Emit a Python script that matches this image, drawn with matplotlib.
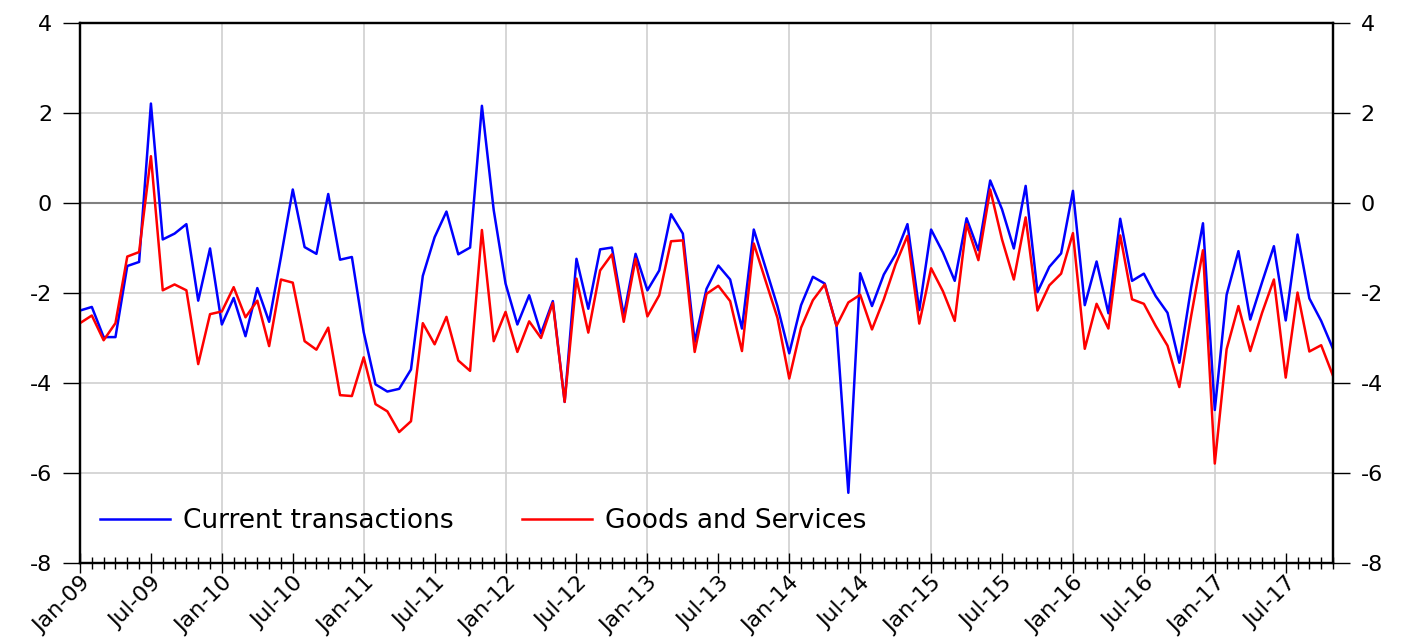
import numpy as np
import pandas as pd
import matplotlib
matplotlib.use("Agg")
import matplotlib.pyplot as plt
from matplotlib.ticker import FixedLocator

plt.rcParams['font.family'] = ['DejaVu Sans']
plt.rcParams['axes.unicode_minus'] = False

# monthly data, Jan-09 .. Nov-17
months = pd.date_range('2009-01-01', periods=107, freq='MS')

current_transactions = [
    -2.39, -2.31, -2.98, -2.98, -1.40, -1.31, 2.21, -0.81, -0.68, -0.47, -2.17, -1.01,
    -2.70, -2.11, -2.96, -1.89, -2.64, -1.20, 0.30, -0.98, -1.13, 0.20, -1.26, -1.20,
    -2.87, -4.03, -4.19, -4.13, -3.70, -1.62, -0.76, -0.19, -1.14, -0.99, 2.16, -0.16,
    -1.79, -2.70, -2.05, -2.90, -2.18, -4.42, -1.24, -2.35, -1.03, -0.99, -2.50, -1.13,
    -1.94, -1.50, -0.25, -0.68, -3.09, -1.91, -1.39, -1.70, -2.79, -0.59, -1.44, -2.29,
    -3.34, -2.27, -1.64, -1.79, -2.73, -6.44, -1.56, -2.29, -1.59, -1.14, -0.47, -2.38,
    -0.59, -1.10, -1.73, -0.34, -1.05, 0.50, -0.14, -1.01, 0.38, -1.98, -1.42, -1.12,
    0.27, -2.27, -1.30, -2.45, -0.35, -1.73, -1.57, -2.07, -2.44, -3.55, -1.88, -0.45,
    -4.60, -2.04, -1.07, -2.59, -1.76, -0.96, -2.61, -0.70, -2.12, -2.62, -3.24,
]
goods_services = [
    -2.67, -2.50, -3.05, -2.67, -1.19, -1.09, 1.04, -1.94, -1.81, -1.94, -3.58, -2.47,
    -2.41, -1.87, -2.54, -2.17, -3.18, -1.70, -1.77, -3.07, -3.26, -2.77, -4.27, -4.29,
    -3.43, -4.47, -4.63, -5.09, -4.85, -2.67, -3.14, -2.53, -3.50, -3.73, -0.60, -3.07,
    -2.42, -3.31, -2.63, -3.00, -2.22, -4.42, -1.68, -2.88, -1.50, -1.14, -2.64, -1.24,
    -2.52, -2.05, -0.85, -0.83, -3.31, -2.02, -1.84, -2.18, -3.29, -0.90, -1.73, -2.55,
    -3.90, -2.77, -2.16, -1.81, -2.73, -2.21, -2.04, -2.81, -2.14, -1.36, -0.73, -2.68,
    -1.45, -1.96, -2.62, -0.47, -1.27, 0.30, -0.81, -1.70, -0.32, -2.39, -1.83, -1.57,
    -0.67, -3.24, -2.24, -2.79, -0.72, -2.14, -2.24, -2.73, -3.17, -4.09, -2.51, -1.05,
    -5.79, -3.25, -2.29, -3.29, -2.44, -1.70, -3.88, -1.99, -3.30, -3.16, -3.84,
]
y_ticks = [4, 2, 0, -2, -4, -6, -8]

x = np.arange(len(months))
jan_idx = x[months.month == 1]
major_idx = x[(months.month == 1) | (months.month == 7)]
major_labels = months[major_idx].strftime('%b-%y')

fig = plt.figure(figsize=(14.05, 6.43), dpi=100)
ax = fig.add_axes([80 / 1405, 80 / 643, 1253 / 1405, 540 / 643])

# grid
for xi in jan_idx[1:]:
    ax.axvline(xi, color='#d0d0d0', lw=1.2, zorder=0)
for yv in y_ticks:
    if yv == 0:
        ax.axhline(0, color='#808080', lw=1.5, zorder=1)
    else:
        ax.axhline(yv, color='#d0d0d0', lw=1.2, zorder=0)

ax.plot(x, current_transactions, color='#0000ff', lw=1.8, label='Current transactions', zorder=3)
ax.plot(x, goods_services, color='#ff0000', lw=1.8, label='Goods and Services', zorder=3)

ax.set_xlim(0, len(x) - 1)
ax.set_ylim(-8, 4)
ax.set_yticks(y_ticks)
ax.tick_params(axis='y', direction='out', length=12, width=1, labelsize=16, pad=8)

ax.xaxis.set_major_locator(FixedLocator(major_idx))
ax.xaxis.set_minor_locator(FixedLocator(x))
ax.set_xticklabels(major_labels, rotation=45, ha='right', rotation_mode='anchor')
ax.tick_params(axis='x', which='major', direction='inout', length=14, width=1,
               labelsize=16, pad=0)
ax.tick_params(axis='x', which='minor', direction='inout', length=9, width=1)

for s in ax.spines.values():
    s.set_linewidth(1.6)
    s.set_color('black')

ax2 = ax.twinx()
ax2.set_ylim(-8, 4)
ax2.set_yticks(y_ticks)
ax2.tick_params(axis='y', direction='out', length=12, width=1, labelsize=16, pad=8)
for s in ax2.spines.values():
    s.set_linewidth(1.6)

ax.legend(loc='center left', bbox_to_anchor=(20 / 1253, 0.078), ncol=2, frameon=False,
          fontsize=19, handlelength=2.65, handletextpad=0.5, columnspacing=2.6,
          borderpad=0, borderaxespad=0)

fig.savefig('out.png', dpi=100)
